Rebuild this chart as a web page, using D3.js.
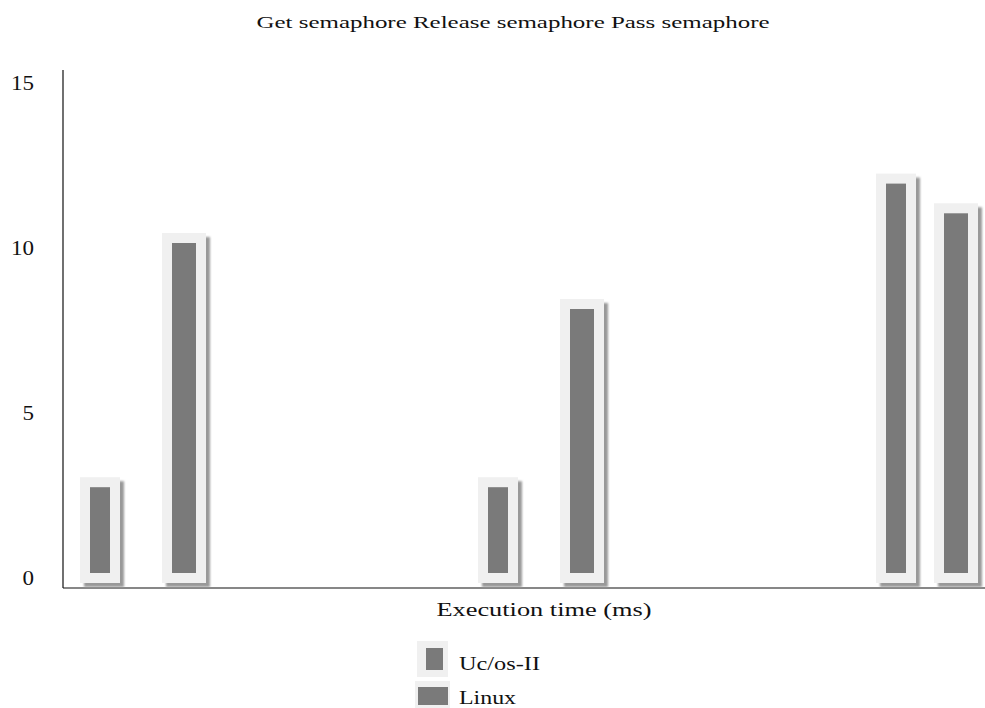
<!DOCTYPE html>
<html>
<head>
<meta charset="utf-8">
<script src="https://cdn.jsdelivr.net/npm/d3@7"></script>
<style>
  body { margin: 0; background: #fff; }
  text { font-family: "Liberation Serif", Tinos, "Times New Roman", Times, serif; fill: #111; }
</style>
</head>
<body>
<svg id="chart" width="985" height="708"></svg>
<script>
const groups = ["Get semaphore", "Release semaphore", "Pass semaphore"];
const series = ["Uc/os-II", "Linux"];
const ucValues = [2.6, 2.6, 11.8];
const linuxValues = [10.0, 8.0, 10.9];
const yTicks = [0, 5, 10, 15];

const svg = d3.select("#chart"),
      width = +svg.attr("width"),
      height = +svg.attr("height");

const axisLeftX = 63, axisBottomY = 588, plotRight = 978;

const y = d3.scaleLinear().domain([0, 15]).range([573, 78]);

// groups spaced evenly, series offset inside each group
const xGroup = d3.scaleBand().domain(groups).range([80, 80 + 3 * 398]);
const xInner = d3.scaleBand().domain(series).range([0, 164]);

const barWidth = {"Uc/os-II": 20, "Linux": 24};
const pad = 10;

// drop shadow blur
const defs = svg.append("defs");
defs.append("filter").attr("id", "blur")
    .attr("x", "-20%").attr("y", "-20%").attr("width", "140%").attr("height", "140%")
  .append("feGaussianBlur").attr("stdDeviation", 1.2);

// title
svg.append("text")
    .attr("x", 513)
    .attr("y", 28)
    .attr("text-anchor", "middle")
    .attr("font-size", 17)
    .attr("textLength", 513)
    .attr("lengthAdjust", "spacingAndGlyphs")
    .text(groups.join(" "));

// y axis labels (no tick marks)
const yAxis = d3.axisLeft(y).tickValues(yTicks).tickSize(0).tickPadding(29);
const gy = svg.append("g").attr("transform", `translate(${axisLeftX},0)`).call(yAxis);
gy.select(".domain").remove();
gy.selectAll("text")
    .attr("y", 5)
    .attr("font-size", 20)
    .attr("fill", "#111")
    .attr("textLength", d => String(d).length * 11.5)
    .attr("lengthAdjust", "spacingAndGlyphs")
    .style("font-family", '"Liberation Serif", Tinos, "Times New Roman", serif');

// axis lines
svg.append("line")
    .attr("x1", axisLeftX).attr("y1", 70)
    .attr("x2", axisLeftX).attr("y2", axisBottomY)
    .attr("stroke", "#111").attr("stroke-width", 1.2);
svg.append("line")
    .attr("x1", axisLeftX).attr("y1", axisBottomY)
    .attr("x2", width).attr("y2", axisBottomY)
    .attr("stroke", "#111").attr("stroke-width", 1.2);

// bar records
const bars = [];
groups.forEach((g, i) => {
    bars.push({group: g, series: "Uc/os-II", value: ucValues[i]});
    bars.push({group: g, series: "Linux", value: linuxValues[i]});
});

const barG = svg.append("g");
bars.forEach(d => {
    const w = barWidth[d.series];
    const boxW = w + 2 * pad;
    // keep the box inside the plot area
    const left = Math.min(xGroup(d.group) + xInner(d.series), plotRight - boxW);
    const top = y(d.value), bottom = y(0);

    barG.append("rect")
        .attr("x", left + 4).attr("y", top - pad + 4)
        .attr("width", boxW).attr("height", bottom - top + 2 * pad)
        .attr("fill", "#999")
        .attr("filter", "url(#blur)");

    barG.append("rect")
        .attr("x", left).attr("y", top - pad)
        .attr("width", boxW).attr("height", bottom - top + 2 * pad)
        .attr("fill", "#f0f0f0");

    barG.append("rect")
        .attr("x", left + pad).attr("y", top)
        .attr("width", w).attr("height", bottom - top)
        .attr("fill", "#7a7a7a");
});

// x axis label
svg.append("text")
    .attr("x", 544)
    .attr("y", 616)
    .attr("text-anchor", "middle")
    .attr("font-size", 19)
    .attr("textLength", 215)
    .attr("lengthAdjust", "spacingAndGlyphs")
    .text("Execution time (ms)");

// legend
const legend = svg.append("g");
legend.append("rect").attr("x", 417).attr("y", 641).attr("width", 31).attr("height", 36).attr("fill", "#f0f0f0");
legend.append("rect").attr("x", 426).attr("y", 648).attr("width", 17).attr("height", 22).attr("fill", "#7a7a7a");
legend.append("rect").attr("x", 415).attr("y", 681).attr("width", 35).attr("height", 27).attr("fill", "#f0f0f0");
legend.append("rect").attr("x", 418).attr("y", 687).attr("width", 30).attr("height", 18).attr("fill", "#7a7a7a");

legend.selectAll("text.leg")
    .data(series)
  .enter().append("text")
    .attr("class", "leg")
    .attr("x", 459)
    .attr("y", (d, i) => 670 + i * 34)
    .attr("font-size", 19)
    .attr("textLength", d => d === "Linux" ? 57 : 81)
    .attr("lengthAdjust", "spacingAndGlyphs")
    .text(d => d);
</script>
</body>
</html>
